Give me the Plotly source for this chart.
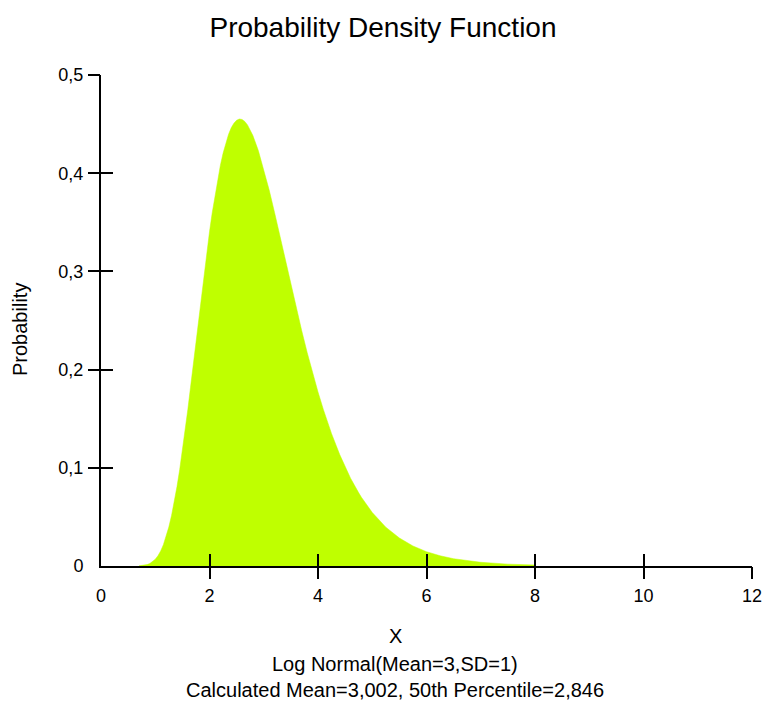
import plotly.graph_objects as go

# Data (Log Normal, Mean=3, SD=1)
x_vals = [0.7, 0.8, 0.85, 0.9, 0.95, 1.0, 1.05, 1.1, 1.15, 1.2, 1.25, 1.3, 1.35,
          1.4, 1.45, 1.5, 1.55, 1.6, 1.65, 1.7, 1.75, 1.8, 1.85, 1.9, 1.95,
          2.0, 2.05, 2.1, 2.15, 2.2, 2.25, 2.3, 2.35, 2.4, 2.45, 2.5, 2.55,
          2.6, 2.65, 2.7, 2.75, 2.8, 2.9, 3.0, 3.1, 3.2, 3.3, 3.4, 3.5, 3.6,
          3.7, 3.8, 3.9, 4.0, 4.1, 4.2, 4.25, 4.4, 4.5, 4.6, 4.75, 4.8, 5.0,
          5.25, 5.5, 5.75, 6.0, 6.25, 6.5, 7.0, 7.5, 8.0]
pdf_vals = [0.00016, 0.00074, 0.00142, 0.0025, 0.00427, 0.0068, 0.01045,
            0.0153, 0.0217, 0.0297, 0.0396, 0.0513, 0.0650, 0.0806, 0.0980,
            0.1170, 0.1375, 0.1592, 0.1819, 0.2051, 0.2286, 0.2522, 0.2755,
            0.2981, 0.3198, 0.3404, 0.3597, 0.3774, 0.3936, 0.4079, 0.4203,
            0.4308, 0.4394, 0.4462, 0.4509, 0.4539, 0.4552, 0.4547, 0.4527,
            0.4492, 0.4444, 0.4383, 0.4231, 0.4043, 0.3829, 0.3598, 0.3356,
            0.3110, 0.2866, 0.2627, 0.2396, 0.2175, 0.1967, 0.1772, 0.1592,
            0.1426, 0.1348, 0.1135, 0.1008, 0.0894, 0.0745, 0.0700, 0.0545,
            0.0395, 0.0285, 0.0204, 0.0146, 0.01043, 0.0074, 0.0038, 0.0019,
            0.0010]

x_ticks = [0, 2, 4, 6, 8, 10, 12]
x_ticktext = ["0", "2", "4", "6", "8", "10", "12"]
x_marks = [2, 4, 6, 8, 10, 12]
y_ticks = [0, 0.1, 0.2, 0.3, 0.4, 0.5]
y_ticktext = ["0", "0,1", "0,2", "0,3", "0,4", "0,5"]
y_marks = [0.1, 0.2, 0.3, 0.4, 0.5]

title_text = "Probability Density Function"
x_title = "X"
sub1 = "Log Normal(Mean=3,SD=1)"
sub2 = "Calculated Mean=3,002, 50th Percentile=2,846"
y_title = "Probability"

FONT = "Liberation Sans, Arial, sans-serif"
FILL = "#BFFF00"

fig = go.Figure()
fig.add_trace(go.Scatter(x=x_vals, y=pdf_vals, mode="lines", fill="tozeroy",
                         fillcolor=FILL, line=dict(color=FILL, width=0.5),
                         showlegend=False, hoverinfo="skip"))
# dummy traces to activate overlay axes for crossing tick marks
fig.add_trace(go.Scatter(x=[None], y=[None], xaxis="x2", yaxis="y2", showlegend=False))
fig.add_trace(go.Scatter(x=[None], y=[None], xaxis="x3", yaxis="y3", showlegend=False))

axis_common = dict(showgrid=False, zeroline=False, automargin=False)
fig.update_layout(
    width=766, height=704,
    margin=dict(l=101, r=14, t=75, b=138),
    paper_bgcolor="white", plot_bgcolor="white",
    font=dict(family=FONT, size=18, color="black"),
    title=dict(text=title_text, x=383 / 766,
               xanchor="center", y=1 - 27 / 704,
               yanchor="middle", yref="container",
               font=dict(family=FONT, size=28, color="black")),
    xaxis=dict(range=[0, 12], tickvals=x_ticks, ticktext=x_ticktext,
               ticks="outside", ticklen=12, tickcolor="rgba(0,0,0,0)",
               showline=True, linewidth=2, linecolor="black", **axis_common),
    yaxis=dict(range=[0, 0.5], tickvals=y_ticks, ticktext=y_ticktext,
               ticks="outside", ticklen=12, tickcolor="rgba(0,0,0,0)",
               showline=True, linewidth=2, linecolor="black", **axis_common),
    xaxis2=dict(range=[0, 12], overlaying="x", anchor="y2", tickvals=x_marks,
                ticks="outside", ticklen=12, tickwidth=2, tickcolor="black",
                showticklabels=False, showline=False, **axis_common),
    yaxis2=dict(range=[0, 0.5], overlaying="y", anchor="x2", tickvals=y_marks,
                ticks="outside", ticklen=12, tickwidth=2, tickcolor="black",
                showticklabels=False, showline=False, **axis_common),
    xaxis3=dict(range=[0, 12], overlaying="x", anchor="y3", tickvals=x_marks,
                ticks="inside", ticklen=12, tickwidth=2, tickcolor="black",
                showticklabels=False, showline=False, **axis_common),
    yaxis3=dict(range=[0, 0.5], overlaying="y", anchor="x3", tickvals=y_marks,
                ticks="inside", ticklen=12, tickwidth=2, tickcolor="black",
                showticklabels=False, showline=False, **axis_common),
)

annots = [
    (x_title, (566 - 636) / 491),
    (sub1, (566 - 664) / 491),
    (sub2, (566 - 690) / 491),
]
for txt, yy in annots:
    fig.add_annotation(text=txt, xref="paper", yref="paper", x=(395 - 101) / 651,
                       y=yy, xanchor="center", yanchor="middle", showarrow=False,
                       font=dict(family=FONT, size=20, color="black"))
fig.add_annotation(text=y_title, xref="paper", yref="paper", x=(20 - 101) / 651,
                   y=(566 - 330) / 491, xanchor="center", yanchor="middle",
                   textangle=-90, showarrow=False,
                   font=dict(family=FONT, size=20, color="black"))

fig.write_html("out.html")
